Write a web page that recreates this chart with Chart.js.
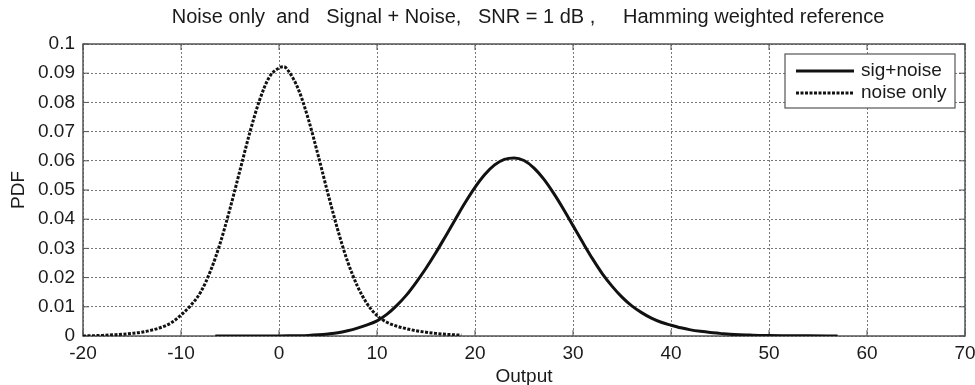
<!DOCTYPE html>
<html>
<head>
<meta charset="utf-8">
<title>Noise only and Signal + Noise</title>
<script src="https://cdn.jsdelivr.net/npm/chart.js@4.4.1/dist/chart.umd.min.js"></script>
<style>
  html, body { margin: 0; padding: 0; background: #fff; }
  #wrap { width: 975px; height: 385px; }
</style>
</head>
<body>
<div id="wrap"><canvas id="pdfChart" width="975" height="385"></canvas></div>
<script>
const titleText = "Noise only  and   Signal + Noise,   SNR = 1 dB ,     Hamming weighted reference";
const seriesNames = ["sig+noise", "noise only"];
const xTickLabels = ["-20", "-10", "0", "10", "20", "30", "40", "50", "60", "70"];
const yTickLabels = ["0", "0.01", "0.02", "0.03", "0.04", "0.05", "0.06", "0.07", "0.08", "0.09", "0.1"];

// noise only PDF
const noiseX = [-20, -19, -18, -17, -16, -15, -14, -13, -12, -11, -10, -9, -8, -7, -6, -5, -4, -3, -2, -1,
  0, 0.5, 1, 2, 3, 4, 5, 6, 7, 8, 9, 10, 11, 12, 13, 14, 15, 16, 17, 18, 18.6];
const noiseY = [0.0000, 0.0001, 0.0002, 0.0004, 0.0006, 0.0009, 0.0013, 0.0020, 0.0030, 0.0045, 0.0072, 0.0105,
  0.0150, 0.0222, 0.0318, 0.0436, 0.0565, 0.0694, 0.0806, 0.0886,
  0.0918, 0.0922, 0.0906, 0.0843, 0.0742, 0.0618, 0.0487, 0.0363, 0.0255, 0.0171, 0.0110,
  0.0070, 0.0047, 0.0034, 0.0025, 0.0018, 0.0013, 0.0009, 0.0006, 0.0004, 0.0003];

// signal + noise PDF
const sigX = [-6.5, -3, 0, 1, 2, 3, 4, 5, 6, 7, 8, 9, 10, 11, 12, 13, 14, 15, 16, 17, 18, 19, 20, 21, 22, 23, 24,
  25, 26, 27, 28, 29, 30, 31, 32, 33, 34, 35, 36, 37, 38, 39, 40, 41, 42, 43, 44, 45, 46, 47, 48, 49, 50,
  52, 54, 57];
const sigY = [0, 0, 0.00002, 0.00005, 0.0001, 0.0002, 0.0004, 0.0007, 0.0011, 0.0018, 0.0027, 0.0038, 0.0052,
  0.0074, 0.0104, 0.0140, 0.0184, 0.0232, 0.0285, 0.0342, 0.0400, 0.0457, 0.0509, 0.0553, 0.0586, 0.0605, 0.0610,
  0.0601, 0.0576, 0.0538, 0.0490, 0.0436, 0.0378, 0.0320, 0.0264, 0.0213, 0.0170, 0.0133, 0.0103, 0.0080,
  0.0061, 0.0047, 0.0037, 0.0028, 0.0021, 0.0016, 0.0012, 0.0009, 0.0006, 0.0004, 0.0003, 0.0002, 0.00015,
  0.0001, 0.00005, 0];

const FONT = "'Liberation Sans', Arial, sans-serif";
const TEXT = '#1a1a1a';

function toPoints(xs, ys) {
  return xs.map((x, i) => ({ x: x, y: ys[i] }));
}

// box round the axes with inward tick marks, matlab style
const axisFrame = {
  id: 'axisFrame',
  beforeDatasetsDraw(chart) {
    const { ctx, chartArea: a, scales: { x, y } } = chart;
    ctx.save();
    ctx.strokeStyle = '#555';
    ctx.lineWidth = 1;
    ctx.beginPath();
    x.ticks.forEach(t => {
      const px = x.getPixelForValue(t.value);
      ctx.moveTo(px, a.bottom); ctx.lineTo(px, a.bottom - 6);
      ctx.moveTo(px, a.top); ctx.lineTo(px, a.top + 6);
    });
    y.ticks.forEach(t => {
      const py = y.getPixelForValue(t.value);
      ctx.moveTo(a.left, py); ctx.lineTo(a.left + 6, py);
      ctx.moveTo(a.right, py); ctx.lineTo(a.right - 6, py);
    });
    ctx.stroke();
    ctx.lineWidth = 1.5;
    ctx.strokeRect(a.left, a.top, a.right - a.left, a.bottom - a.top);
    ctx.restore();
  }
};

// boxed legend in the top right corner of the axes
const boxLegend = {
  id: 'boxLegend',
  afterDatasetsDraw(chart) {
    const { ctx, chartArea: a } = chart;
    const w = 170, h = 54;
    const bx = a.right - 10 - w, by = a.top + 10;
    ctx.save();
    ctx.fillStyle = '#fff';
    ctx.fillRect(bx, by, w, h);
    ctx.strokeStyle = '#555';
    ctx.lineWidth = 1.2;
    ctx.strokeRect(bx, by, w, h);
    ctx.font = '19px ' + FONT;
    ctx.textBaseline = 'middle';
    chart.data.datasets.forEach((ds, i) => {
      const ly = by + 17 + i * 22;
      ctx.strokeStyle = ds.borderColor;
      ctx.lineWidth = ds.borderWidth;
      ctx.setLineDash(ds.borderDash || []);
      ctx.beginPath();
      ctx.moveTo(bx + 11, ly);
      ctx.lineTo(bx + 69, ly);
      ctx.stroke();
      ctx.setLineDash([]);
      ctx.fillStyle = TEXT;
      ctx.fillText(ds.label, bx + 76, ly);
    });
    ctx.restore();
  }
};

// title over the axes
const axesTitle = {
  id: 'axesTitle',
  afterDraw(chart) {
    const { ctx, chartArea: a } = chart;
    ctx.save();
    ctx.font = '20px ' + FONT;
    ctx.fillStyle = TEXT;
    ctx.textAlign = 'center';
    ctx.textBaseline = 'middle';
    ctx.fillText(titleText, (a.left + a.right) / 2 + 4, 17);
    ctx.restore();
  }
};

const ctx = document.getElementById('pdfChart').getContext('2d');
new Chart(ctx, {
  type: 'line',
  data: {
    datasets: [
      {
        label: seriesNames[0],
        data: toPoints(sigX, sigY),
        borderColor: '#111',
        borderWidth: 3,
        pointRadius: 0,
        cubicInterpolationMode: 'monotone',
        fill: false
      },
      {
        label: seriesNames[1],
        data: toPoints(noiseX, noiseY),
        borderColor: '#111',
        borderWidth: 3,
        borderDash: [3, 1.5],
        pointRadius: 0,
        cubicInterpolationMode: 'monotone',
        fill: false
      }
    ]
  },
  options: {
    responsive: false,
    animation: false,
    layout: { padding: { top: 44, right: 10, left: 0, bottom: 0 } },
    plugins: {
      legend: { display: false },
      tooltip: { enabled: false },
      title: { display: false }
    },
    scales: {
      x: {
        type: 'linear',
        min: -20,
        max: 70,
        afterFit(scale) { scale.height = 49; scale.paddingLeft = 0; scale.paddingRight = 0; },
        ticks: {
          stepSize: 10,
          padding: 6,
          maxRotation: 0,
          color: TEXT,
          font: { family: FONT, size: 19 },
          callback: (v, i) => xTickLabels[i]
        },
        grid: { color: '#777', lineWidth: 1, drawTicks: false },
        border: { display: false, dash: [2, 2] },
        title: {
          display: true,
          text: 'Output',
          color: TEXT,
          font: { family: FONT, size: 19, lineHeight: 1 },
          padding: { top: 0, bottom: -1 }
        }
      },
      y: {
        min: 0,
        max: 0.1,
        afterFit(scale) { scale.width = 83; scale.paddingTop = 0; scale.paddingBottom = 0; },
        ticks: {
          stepSize: 0.01,
          padding: 8,
          color: TEXT,
          font: { family: FONT, size: 19 },
          callback: (v, i) => yTickLabels[i]
        },
        grid: { color: '#777', lineWidth: 1, drawTicks: false },
        border: { display: false, dash: [2, 2] },
        title: {
          display: true,
          text: 'PDF',
          color: TEXT,
          font: { family: FONT, size: 19, lineHeight: 1 },
          padding: { top: 9, bottom: 0 }
        }
      }
    }
  },
  plugins: [axisFrame, boxLegend, axesTitle]
});
</script>
</body>
</html>
